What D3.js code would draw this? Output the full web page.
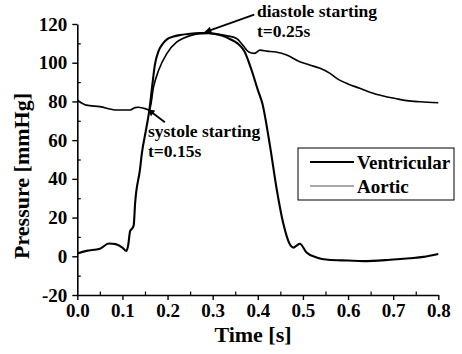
<!DOCTYPE html>
<html>
<head>
<meta charset="utf-8">
<script src="https://cdn.jsdelivr.net/npm/d3@7/dist/d3.min.js"></script>
<style>
  html, body { margin: 0; padding: 0; background: #fff; }
  svg text { font-family: "Liberation Serif", "Times New Roman", serif; font-weight: bold; fill: #000; }
</style>
</head>
<body>
<svg id="chart" width="462" height="354"></svg>
<script>
// ---- Data ----
const ventricularTime = [0, 0.02, 0.05, 0.07, 0.085, 0.1, 0.109, 0.113, 0.117, 0.122, 0.125, 0.128, 0.139, 0.143, 0.152, 0.16, 0.166, 0.172, 0.18, 0.19, 0.2, 0.213, 0.228, 0.25, 0.27, 0.29, 0.305, 0.32, 0.34, 0.355, 0.37, 0.385, 0.4, 0.41, 0.427, 0.442, 0.456, 0.471, 0.479, 0.486, 0.493, 0.508, 0.53, 0.556, 0.6, 0.634, 0.693, 0.737, 0.767, 0.8];
const ventricularPressure = [1.5, 2.8, 3.9, 6.6, 6.3, 4.5, 2.7, 6, 13, 14.5, 16, 27, 45, 53, 65, 76, 88, 99, 106, 110, 112.3, 113.5, 114.3, 115, 115.3, 115.3, 114.9, 114, 112, 110, 106, 97, 86, 79, 57, 34.5, 17.4, 6.2, 4.5, 5.5, 6.5, 2, -0.6, -1.8, -2.2, -2.5, -1.8, -1, -0.3, 1.2];

const aorticTime = [0, 0.02, 0.05, 0.087, 0.117, 0.128, 0.135, 0.148, 0.16, 0.169, 0.18, 0.198, 0.22, 0.235, 0.25, 0.27, 0.29, 0.31, 0.33, 0.353, 0.367, 0.38, 0.392, 0.405, 0.42, 0.44, 0.464, 0.493, 0.515, 0.538, 0.56, 0.575, 0.6, 0.626, 0.65, 0.678, 0.705, 0.73, 0.76, 0.8];
const aorticPressure = [80.6, 78.1, 77.3, 75.6, 75.6, 76.8, 77, 76.4, 75.6, 87.5, 96, 104.6, 110.6, 112.6, 114, 115, 115.2, 114.8, 114, 112.5, 109, 105.5, 104.8, 106.5, 106, 105.5, 104, 100.5, 98.8, 97.1, 94.5, 91.9, 89, 86.8, 84.6, 82.8, 81.5, 80.4, 79.8, 79.3];

const xTicks = [0.0, 0.1, 0.2, 0.3, 0.4, 0.5, 0.6, 0.7, 0.8];
const yTicks = [-20, 0, 20, 40, 60, 80, 100, 120];
const xMinorTicks = [0.05, 0.15, 0.25, 0.35, 0.45, 0.55, 0.65, 0.75];
const yMinorTicks = [-10, 10, 30, 50, 70, 90, 110];

const seriesNames = ["Ventricular", "Aortic"];
const xTitle = "Time [s]";
const yTitle = "Pressure [mmHg]";

const annotations = [
  { lines: ["diastole starting", "t=0.25s"], tipT: 0.283, tipP: 115.8, from: [0.392, 124.8] },
  { lines: ["systole starting", "t=0.15s"], tipT: 0.157, tipP: 75.8, from: [0.194, 69.2] }
];

// ---- Chart ----
const FONT = "'Liberation Serif', 'Times New Roman', serif";
const svg = d3.select("#chart");
const x = d3.scaleLinear().domain([0, 0.8]).range([77.3, 438.3]);
const y = d3.scaleLinear().domain([-20, 120]).range([295, 24]);

svg.append("defs").append("marker")
  .attr("id", "arrow").attr("viewBox", "0 0 10 10")
  .attr("refX", 9).attr("refY", 5)
  .attr("markerWidth", 9).attr("markerHeight", 7)
  .attr("markerUnits", "userSpaceOnUse")
  .attr("orient", "auto")
  .append("path").attr("d", "M0,0 L10,5 L0,10 Z").attr("fill", "#000");

// X axis (major outward, minor inward)
const xAxis = svg.append("g").attr("transform", `translate(0,${y(-20)})`)
  .call(d3.axisBottom(x).tickValues(xTicks).tickFormat(d => d.toFixed(1)).tickSize(5).tickSizeOuter(0))
  .attr("font-family", FONT).attr("font-weight", "bold").attr("font-size", 19);
xAxis.select(".domain").attr("stroke", "#000").attr("stroke-width", 1.6);
xAxis.selectAll(".tick line").attr("stroke-width", 1.4);
xAxis.selectAll(".tick text").attr("dy", 0).attr("y", 22);
svg.append("g").attr("transform", `translate(0,${y(-20)})`)
  .call(d3.axisTop(x).tickValues(xMinorTicks).tickSize(3.5).tickFormat(""))
  .call(g => g.select(".domain").remove())
  .selectAll(".tick line").attr("stroke-width", 1.2);

// Y axis
const yAxis = svg.append("g").attr("transform", `translate(${x(0)},0)`)
  .call(d3.axisLeft(y).tickValues(yTicks).tickFormat(d => String(d)).tickSize(5).tickSizeOuter(0))
  .attr("font-family", FONT).attr("font-weight", "bold").attr("font-size", 19);
yAxis.select(".domain").attr("stroke", "#000").attr("stroke-width", 1.6);
yAxis.selectAll(".tick line").attr("stroke-width", 1.4);
yAxis.selectAll(".tick text").attr("x", -10);
svg.append("g").attr("transform", `translate(${x(0)},0)`)
  .call(d3.axisRight(y).tickValues(yMinorTicks).tickSize(3.5).tickFormat(""))
  .call(g => g.select(".domain").remove())
  .selectAll(".tick line").attr("stroke-width", 1.2);

// Axis titles
svg.append("text").attr("x", 253).attr("y", 342).attr("text-anchor", "middle")
  .attr("font-size", 22).text(xTitle);
svg.append("text").attr("transform", `translate(29,${176}) rotate(-90)`)
  .attr("text-anchor", "middle").attr("font-size", 22).text(yTitle);

// Lines
const line = d3.line().x(d => x(d[0])).y(d => y(d[1])).curve(d3.curveMonotoneX);
const aortic = aorticTime.map((t, i) => [t, aorticPressure[i]]);
const ventricular = ventricularTime.map((t, i) => [t, ventricularPressure[i]]);

svg.append("path").datum(aortic).attr("d", line)
  .attr("fill", "none").attr("stroke", "#000").attr("stroke-width", 1.6);
svg.append("path").datum(ventricular).attr("d", line)
  .attr("fill", "none").attr("stroke", "#000").attr("stroke-width", 2.1);

// Annotations
const annoPos = [
  { tx: 257, ty: 17 },
  { tx: 148, ty: 137 }
];
annotations.forEach((a, i) => {
  svg.append("line")
    .attr("x1", x(a.from[0])).attr("y1", y(a.from[1]))
    .attr("x2", x(a.tipT)).attr("y2", y(a.tipP))
    .attr("stroke", "#000").attr("stroke-width", 1.8)
    .attr("marker-end", "url(#arrow)");
  a.lines.forEach((s, j) => {
    svg.append("text").attr("x", annoPos[i].tx).attr("y", annoPos[i].ty + j * 20)
      .attr("font-size", 17.5).text(s);
  });
});

// Legend
const lg = svg.append("g");
lg.append("rect").attr("x", 298).attr("y", 148).attr("width", 156).attr("height", 52)
  .attr("fill", "#fff").attr("stroke", "#000").attr("stroke-width", 1);
seriesNames.forEach((name, i) => {
  const ly = 162 + i * 24;
  lg.append("line").attr("x1", 310).attr("x2", 354).attr("y1", ly).attr("y2", ly)
    .attr("stroke", i === 0 ? "#000" : "#555").attr("stroke-width", i === 0 ? 2 : 1.2);
  lg.append("text").attr("x", 357).attr("y", ly).attr("dy", "0.35em")
    .attr("font-size", 19).text(name);
});
</script>
</body>
</html>
